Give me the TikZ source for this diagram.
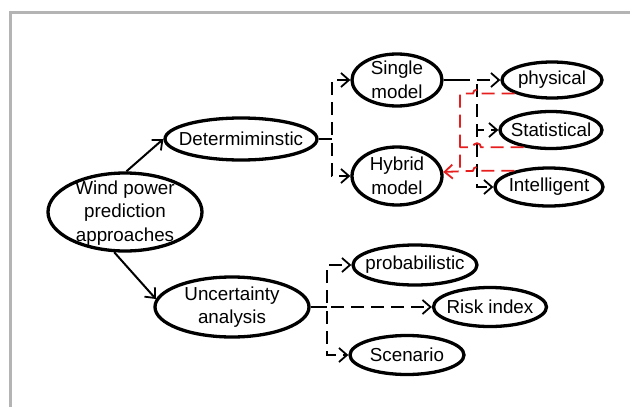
\documentclass[tikz,border=0pt]{standalone}
\usepackage{fontspec}
\setmainfont{Liberation Sans}
\usetikzlibrary{shapes.geometric,arrows.meta,calc}
\definecolor{framegray}{RGB}{180,180,180}
\definecolor{linkred}{RGB}{230,30,30}
\begin{document}
\begin{tikzpicture}[x=1pt,y=-1pt,
  ell/.style={ellipse, draw, line width=3.3pt, inner sep=0pt},
  lbl/.style={font=\fontsize{18.8}{23.5}\selectfont, align=center, inner sep=0pt},
  conn/.style={line width=2pt},
  dsh/.style={conn, dash pattern=on 13pt off 7pt, dash phase=16pt},
  rdsh/.style={line width=1.8pt, draw=linkred, dash pattern=on 13pt off 7pt},
  arr/.style={-{Straight Barb[length=8pt,width=14pt,line width=1.8pt]}},
  rarr/.style={-{Straight Barb[length=8pt,width=14pt,line width=1.8pt,color=linkred]}}
]
\useasboundingbox (0,0) rectangle (630,407);
\draw[framegray, line width=3pt] (10,407) -- (10,12) -- (630,12);

% nodes
\node[ell, minimum width=154, minimum height=78, label={[lbl, yshift=-1pt]center:Wind power\\prediction\\approaches}] (wind) at (125,212) {};
\node[ell, minimum width=152, minimum height=42, label={[lbl]center:Determiminstic}] (det) at (241,139) {};
\node[ell, minimum width=154, minimum height=60, label={[lbl]center:Uncertainty\\analysis}] (unc) at (232,307) {};
\node[ell, minimum width=90, minimum height=52, label={[lbl]center:Single\\model}] (single) at (397,80) {};
\node[ell, minimum width=90, minimum height=58, label={[lbl]center:Hybrid\\model}] (hybrid) at (397,176) {};
\node[ell, minimum width=100, minimum height=36, label={[lbl]center:physical}] (phys) at (552,80) {};
\node[ell, minimum width=102, minimum height=37, label={[lbl]center:Statistical}] (stat) at (551,130) {};
\node[ell, minimum width=108, minimum height=38, label={[lbl]center:Intelligent}] (intel) at (549,187) {};
\node[ell, minimum width=124, minimum height=40, label={[lbl]center:probabilistic}] (prob) at (415,265) {};
\node[ell, minimum width=113, minimum height=39, label={[lbl]center:Risk index}] (risk) at (490,307) {};
\node[ell, minimum width=114, minimum height=39, label={[lbl]center:Scenario}] (scen) at (407,355) {};

% junction coordinates
\coordinate (dj) at (332,139);
\coordinate (sj) at (477,80);
\coordinate (uj) at (327,307);
\coordinate (rv) at (460,0);

% solid arrows from root
\draw[conn, arr] (wind.88) -- (det.west);
\draw[conn, arr] (wind.255) -- (unc.174);

% deterministic branch
\draw[conn] (det.east) -- (dj);
\draw[dsh, arr] (dj) |- (single.west);
\draw[dsh, arr] (dj) |- (hybrid.west);

% single model branch
\draw[conn] (single.east) -- ++(13,0) coordinate (sjs);
\draw[dsh, dash phase=0pt, arr] (sjs) -- (phys.west);
\draw[dsh, arr] (sj) |- (stat.west);
\draw[dsh, arr] (sj) |- (intel.west);

% red links into hybrid model (with hops over the black line)
\draw[rdsh] (phys.200) -- ($(phys.200 -| sj)+(4,0)$) arc[start angle=0, end angle=180, radius=4pt]
  -- (phys.200 -| rv) -- (intel.155 -| rv);
\draw[rdsh] (stat.212) -- ($(stat.212 -| sj)+(4,0)$) arc[start angle=0, end angle=180, radius=4pt]
  -- (stat.212 -| rv);
\draw[rdsh, rarr] (intel.155) -- ($(intel.155 -| sj)+(4,0)$) arc[start angle=0, end angle=180, radius=4pt]
  -- (hybrid.5);

% uncertainty branch
\draw[conn] (unc.east) -- (uj);
\draw[dsh, arr] (uj) |- (prob.west);
\draw[dsh, arr] (uj) -- (risk.west);
\draw[dsh, arr] (uj) |- (scen.west);
\end{tikzpicture}
\end{document}
